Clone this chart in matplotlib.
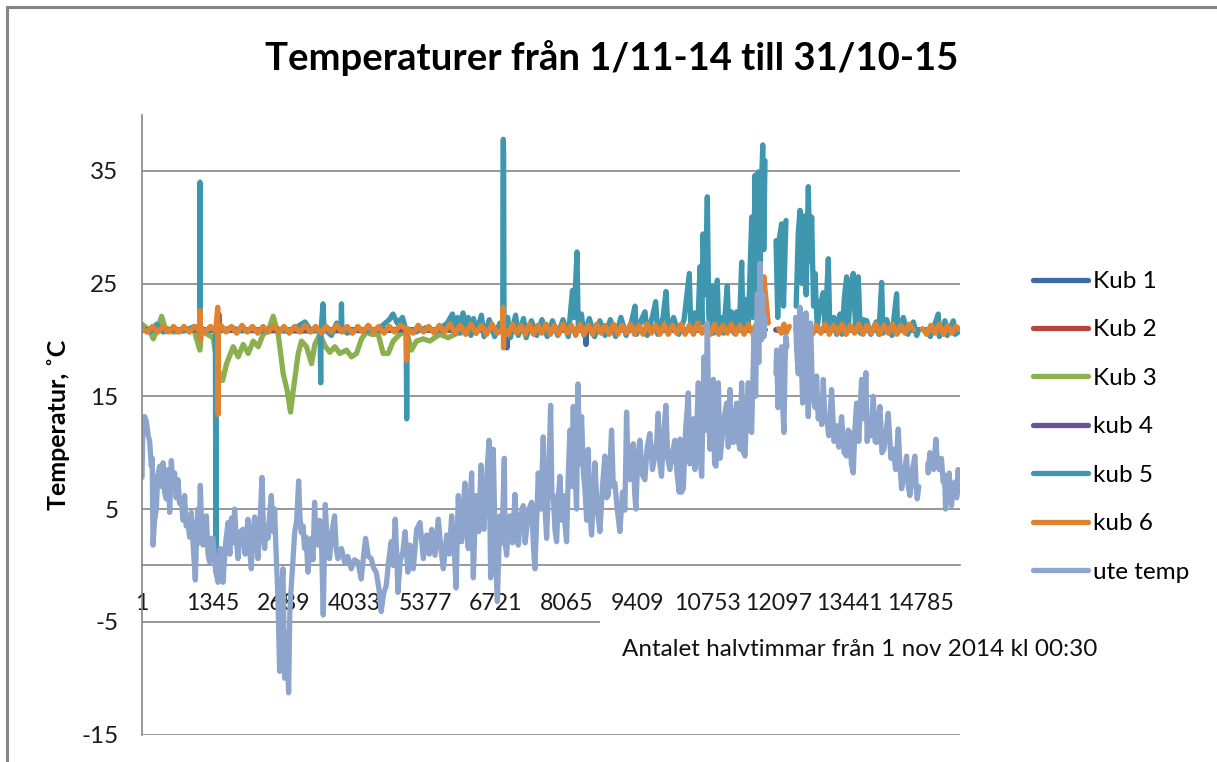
import numpy as np
import matplotlib.pyplot as plt
from matplotlib.patches import Rectangle

# Half-hour temperatures.
# Index = number of half hours since 1 nov 2014 00:30, None = missing data.

x_ticks = [1, 1345, 2689, 4033, 5377, 6721, 8065, 9409, 10753, 12097, 13441, 14785]
n_last = 15543

kub1_idx = [1, 3000, 6925, 6935, 6945, 8430, 8437, 8445, 11838, 11900, 12047, 12236,
            12300, 12430, 14760, 14830, 14910, n_last]
kub1_temp = [20.9, 20.8, 20.9, 19.3, 20.9, 20.9, 19.6, 20.9, 20.9, None, 20.9, 20.9,
             None, 20.9, 20.9, None, 20.9, 20.9]

kub2_idx = [1, 1440, 1460, 1480, 11838, 11900, 12047, 12236, 12300, 12430, 14760,
            14830, 14910, n_last]
kub2_temp = [20.9, 20.9, 22.3, 20.9, 20.9, None, 20.9, 20.9, None, 20.9, 20.9,
             None, 20.9, 20.9]

kub3_idx = [1, 153, 215, 279, 374, 437, 595, 785, 975, 1101, 1133, 1354, 1449, 1532,
            1608, 1734, 1829, 1924, 2019, 2114, 2209, 2304, 2399, 2494, 2589, 2684,
            2760, 2823, 2874, 2969, 3032, 3127, 3222, 3285, 3380, 3475, 3570, 3665,
            3760, 3887, 3982, 4077, 4172, 4267, 4362, 4489, 4584, 4678, 4773, 4900,
            5026, 5121, 5216, 5343, 5470, 5660, 5818, 6039]
kub3_temp = [21.4, 20.8, 20.1, 20.8, 22.1, 21.1, 20.7, 20.8, 21.1, 19.1, 20.8, 20.2,
             17.3, 16.4, 17.9, 19.4, 18.5, 19.6, 18.8, 19.9, 19.4, 20.5, 20.8, 22.1,
             20.5, 17.0, 15.5, 13.6, 15.5, 18.8, 19.9, 19.4, 17.9, 19.6, 20.5, 19.5,
             18.9, 19.4, 18.8, 19.1, 18.5, 18.8, 20.1, 20.7, 20.5, 20.5, 18.8, 18.8,
             19.9, 20.5, 20.8, 19.1, 19.9, 20.1, 19.9, 20.5, 20.2, 20.7]

kub4_idx = [1, 1095, 1103, 1110, 11838, 11900, 12047, 12236, 12300, 12430, 14760,
            14830, 14910, n_last]
kub4_temp = [20.9, 20.9, 20.1, 20.9, 20.9, None, 20.9, 20.9, None, 20.9, 20.9,
             None, 20.9, 20.9]

kub5_idx = [1, 150, 279, 400, 600, 800, 1000, 1095, 1103, 1108, 1200, 1300, 1395,
            1405, 1412, 1500, 1700, 1900, 2100, 2300, 2500, 2700, 2900, 3095, 3200,
            3385, 3396, 3405, 3440, 3460, 3600, 3700, 3780, 3791, 3800, 3900, 4100,
            4300, 4500, 4700, 4770, 4850, 4950, 5020, 5030, 5040, 5200, 5400, 5600,
            5800, 5900, 5950, 6000, 6050, 6100, 6150, 6200, 6250, 6300, 6350, 6450,
            6500, 6600, 6700, 6800, 6855, 6860, 6866, 6872, 6880, 6950, 7000, 7100,
            7150, 7250, 7300, 7400, 7500, 7600, 7700, 7800, 7900, 8000, 8100, 8180,
            8210, 8266, 8290, 8350, 8400, 8500, 8600, 8700, 8800, 8900, 9000, 9100,
            9200, 9300, 9368, 9400, 9500, 9558, 9600, 9700, 9761, 9800, 9900, 9957,
            10000, 10100, 10200, 10300, 10400, 10430, 10500, 10560, 10603, 10640,
            10660, 10700, 10742, 10770, 10800, 10825, 10860, 10932, 10960, 11000,
            11050, 11100, 11122, 11150, 11200, 11250, 11300, 11350, 11395, 11420,
            11490, 11520, 11560, 11586, 11610, 11648, 11670, 11711, 11740, 11770,
            11795, 11815, 11838, 11900, 12047, 12080, 12110, 12154, 12190, 12236,
            12300, 12430, 12470, 12503, 12540, 12580, 12620, 12661, 12690, 12725,
            12760, 12788, 12830, 12880, 12946, 12980, 13041, 13070, 13150, 13200,
            13263, 13300, 13350, 13390, 13420, 13470, 13515, 13560, 13610, 13650,
            13700, 13770, 13850, 13950, 14000, 14054, 14080, 14150, 14250, 14339,
            14360, 14466, 14550, 14656, 14720, 14760, 14830, 14910, 14980, 15050,
            15131, 15150, 15258, 15300, 15416, 15450, n_last]
kub5_temp = [21.0, 20.7, 21.4, 20.7, 21.0, 20.8, 21.2, 21.0, 34.0, 21.2, 20.7, 21.0,
             21.0, 0.7, 21.0, 20.8, 21.1, 20.8, 21.0, 20.8, 21.1, 20.8, 21.0, 21.6,
             20.9, 20.8, 16.2, 21.0, 23.2, 21.0, 20.4, 21.5, 21.0, 23.2, 21.0, 20.6,
             21.0, 20.8, 21.0, 21.8, 22.3, 21.5, 22.0, 20.8, 13.0, 21.0, 20.7, 21.1,
             20.8, 21.5, 22.3, 21.0, 22.0, 20.6, 22.4, 20.8, 22.0, 20.4, 21.9, 20.6,
             22.2, 20.3, 21.8, 20.3, 21.5, 21.0, 36.6, 37.8, 36.6, 20.8, 22.0, 20.2,
             22.2, 20.4, 21.9, 20.2, 21.7, 20.4, 21.8, 20.3, 21.7, 20.4, 21.8, 20.3,
             24.4, 22.0, 27.8, 21.0, 22.3, 20.4, 21.9, 20.3, 21.7, 20.4, 21.8, 20.3,
             22.0, 20.4, 21.6, 23.0, 20.5, 21.9, 22.5, 20.4, 22.1, 23.4, 20.5, 22.0,
             24.3, 20.6, 22.0, 20.5, 21.8, 25.9, 20.8, 22.4, 21.0, 26.5, 21.5, 29.4,
             24.0, 32.7, 22.0, 21.0, 24.8, 20.6, 25.3, 20.7, 22.0, 20.6, 23.5, 24.8,
             21.0, 22.5, 20.6, 22.5, 21.0, 26.9, 21.0, 23.6, 21.2, 27.0, 30.9, 22.0,
             34.6, 24.0, 34.9, 25.0, 33.5, 37.3, 28.0, 35.9, None, 28.8, 22.0, 29.0,
             30.3, 23.0, 30.6, None, 23.0, 29.5, 31.5, 25.0, 31.0, 24.0, 33.6, 27.0,
             30.9, 23.0, 25.9, 21.0, 23.0, 24.2, 21.0, 27.2, 21.0, 22.0, 20.5, 22.3,
             20.5, 24.0, 25.6, 21.0, 24.8, 25.9, 21.0, 25.6, 20.6, 21.8, 21.7, 20.5,
             21.6, 20.5, 25.1, 20.6, 21.8, 20.4, 24.1, 20.6, 22.0, 20.5, 21.6, 20.4,
             20.9, None, 20.9, 20.3, 21.2, 22.3, 20.3, 21.7, 20.4, 21.7, 20.5, 20.8]

kub6_idx = [1, 100, 200, 300, 400, 500, 600, 700, 800, 900, 1000, 1098, 1103, 1106,
            1112, 1200, 1300, 1400, 1440, 1446, 1452, 1500, 1600, 1700, 1800, 1900,
            2000, 2100, 2200, 2300, 2400, 2500, 2600, 2700, 2800, 2900, 3000, 3100,
            3200, 3300, 3400, 3500, 3600, 3700, 3800, 3900, 4000, 4100, 4200, 4300,
            4400, 4500, 4600, 4700, 4800, 4900, 5020, 5030, 5040, 5150, 5250, 5350,
            5450, 5550, 5650, 5750, 5850, 5950, 6050, 6150, 6250, 6350, 6450, 6550,
            6650, 6750, 6855, 6862, 6870, 6880, 6960, 7040, 7120, 7200, 7280, 7360,
            7440, 7520, 7600, 7680, 7760, 7840, 7920, 8000, 8080, 8160, 8240, 8320,
            8400, 8480, 8560, 8640, 8720, 8800, 8880, 8960, 9040, 9120, 9200, 9280,
            9360, 9440, 9520, 9600, 9680, 9760, 9840, 9920, 10000, 10080, 10160,
            10240, 10320, 10400, 10480, 10560, 10640, 10720, 10800, 10880, 10960,
            11040, 11120, 11200, 11280, 11360, 11440, 11520, 11600, 11660, 11700,
            11750, 11795, 11820, 11838, 11900, 12047, 12100, 12150, 12200, 12236,
            12300, 12430, 12500, 12580, 12660, 12740, 12820, 12900, 12980, 13060,
            13140, 13220, 13300, 13380, 13460, 13540, 13620, 13700, 13780, 13860,
            13940, 14020, 14100, 14180, 14260, 14340, 14420, 14500, 14580, 14660,
            14760, 14830, 14910, 14990, 15070, 15150, 15230, 15310, 15390, 15470,
            n_last]
kub6_temp = [21.0, 20.7, 21.2, 20.7, 21.2, 20.7, 21.2, 20.7, 21.2, 20.7, 21.2, 20.8,
             22.6, 20.0, 21.0, 20.7, 21.2, 20.8, 22.9, 13.4, 21.0, 21.3, 20.7, 21.2,
             20.6, 21.3, 20.7, 21.2, 20.6, 21.2, 20.7, 21.3, 20.7, 21.2, 20.6, 21.2,
             20.7, 21.3, 20.7, 21.2, 20.6, 21.2, 20.7, 21.3, 20.7, 21.2, 20.6, 21.2,
             20.7, 21.3, 20.7, 21.2, 20.6, 21.2, 20.7, 21.3, 21.0, 18.2, 21.0, 20.6,
             21.3, 20.7, 21.2, 20.6, 21.3, 20.7, 21.4, 20.6, 21.3, 20.5, 21.4, 20.6,
             21.3, 20.5, 21.4, 20.6, 21.0, 22.9, 19.3, 21.0, 20.5, 21.4, 20.6, 21.3,
             20.5, 21.4, 20.5, 21.3, 20.6, 21.4, 20.5, 21.3, 20.5, 21.4, 20.6, 21.3,
             20.4, 21.4, 20.5, 21.3, 20.5, 21.4, 20.6, 21.3, 20.5, 21.4, 20.5, 21.3,
             20.6, 21.4, 20.5, 21.3, 20.5, 21.4, 20.6, 21.3, 20.5, 21.4, 20.5, 21.3,
             20.6, 21.4, 20.5, 21.3, 20.5, 21.5, 20.6, 21.3, 20.5, 21.4, 20.5, 21.3,
             20.6, 21.4, 20.5, 21.3, 20.5, 21.4, 20.6, 21.3, 20.6, 22.1, 21.0, 25.6,
             24.5, 21.5, None, 21.0, 20.6, 21.4, 20.6, 21.2, None, 21.9, 20.6, 21.4,
             20.5, 21.3, 20.6, 21.4, 20.5, 21.3, 20.6, 21.4, 20.5, 21.3, 20.6, 21.4,
             20.5, 21.3, 20.6, 21.4, 20.5, 21.3, 20.6, 21.4, 20.5, 21.3, 20.6, 21.4,
             20.9, None, 21.0, 20.5, 21.3, 20.6, 21.4, 20.5, 21.3, 20.6, 21.2, 20.9]

ute_idx = [1, 20, 52, 83, 120, 147, 178, 195, 210, 240, 273, 300, 337, 370, 400, 430,
           463, 500, 527, 558, 590, 621, 650, 685, 715, 748, 780, 811, 840, 875, 905,
           938, 970, 1014, 1040, 1065, 1085, 1109, 1135, 1160, 1190, 1223, 1255, 1286,
           1320, 1350, 1400, 1445, 1490, 1540, 1590, 1635, 1670, 1700, 1730, 1761,
           1790, 1825, 1870, 1920, 1960, 2014, 2045, 2078, 2110, 2141, 2175, 2205,
           2245, 2281, 2310, 2331, 2365, 2394, 2425, 2458, 2490, 2521, 2550, 2584,
           2600, 2616, 2645, 2679, 2711, 2750, 2787, 2810, 2838, 2870, 2901, 2940,
           2977, 3000, 3027, 3060, 3090, 3120, 3154, 3185, 3217, 3250, 3280, 3310,
           3344, 3375, 3407, 3445, 3483, 3520, 3565, 3610, 3660, 3690, 3723, 3790,
           3850, 3910, 3977, 4040, 4103, 4166, 4210, 4249, 4300, 4356, 4400, 4451,
           4500, 4546, 4590, 4641, 4690, 4736, 4775, 4812, 4840, 4863, 4910, 4957,
           5000, 5052, 5093, 5156, 5220, 5283, 5346, 5410, 5460, 5505, 5568, 5631,
           5680, 5726, 5790, 5840, 5884, 5930, 5967, 6011, 6040, 6074, 6105, 6137,
           6170, 6201, 6240, 6264, 6296, 6330, 6359, 6400, 6442, 6470, 6498, 6540,
           6594, 6625, 6650, 6676, 6710, 6752, 6780, 6802, 6840, 6885, 6900, 6929,
           6960, 6992, 7040, 7087, 7120, 7150, 7200, 7245, 7280, 7309, 7350, 7404,
           7440, 7467, 7500, 7530, 7580, 7625, 7660, 7689, 7730, 7765, 7790, 7815,
           7850, 7879, 7910, 7942, 7975, 8005, 8040, 8068, 8100, 8132, 8160, 8195,
           8230, 8258, 8284, 8320, 8353, 8390, 8416, 8450, 8480, 8510, 8543, 8575,
           8606, 8650, 8701, 8750, 8796, 8830, 8860, 8890, 8923, 8955, 8986, 9030,
           9081, 9130, 9176, 9208, 9240, 9271, 9300, 9334, 9360, 9385, 9420, 9461,
           9510, 9556, 9600, 9651, 9700, 9746, 9780, 9809, 9840, 9872, 9910, 9955,
           9990, 10030, 10080, 10125, 10170, 10208, 10223, 10250, 10286, 10330,
           10381, 10410, 10445, 10475, 10508, 10540, 10571, 10600, 10635, 10660,
           10679, 10710, 10742, 10770, 10793, 10825, 10856, 10880, 10907, 10930,
           10951, 10985, 11014, 11060, 11109, 11140, 11173, 11200, 11236, 11270,
           11299, 11330, 11363, 11394, 11430, 11458, 11490, 11521, 11550, 11584,
           11610, 11629, 11660, 11692, 11720, 11743, 11770, 11793, 11818, 11838,
           11900, 12047, 12059, 12085, 12110, 12130, 12154, 12175, 12198, 12220,
           12236, 12255, 12300, 12420, 12439, 12470, 12502, 12530, 12553, 12590,
           12616, 12640, 12660, 12690, 12705, 12730, 12755, 12790, 12818, 12850,
           12882, 12915, 12945, 12975, 13008, 13050, 13103, 13150, 13198, 13240,
           13293, 13340, 13388, 13420, 13451, 13480, 13515, 13545, 13578, 13620,
           13673, 13710, 13755, 13780, 13800, 13850, 13895, 13930, 13958, 13990,
           14022, 14060, 14098, 14140, 14180, 14230, 14275, 14320, 14370, 14400,
           14433, 14480, 14528, 14560, 14591, 14640, 14686, 14710, 14730, 14760,
           14830, 14930, 14939, 14970, 15002, 15040, 15085, 15115, 15148, 15190,
           15224, 15250, 15268, 15300, 15338, 15360, 15382, 15410, 15446, 15480,
           15509, 15530, n_last]
ute_temp = [7.8, 13.0, 13.2, 12.8, 11.5, 11.0, 8.8, 9.5, 1.8, 4.0, 5.0, 8.0, 8.8, 7.0,
            9.1, 6.5, 5.9, 8.5, 4.7, 9.3, 7.0, 8.2, 6.0, 7.6, 5.5, 5.9, 4.0, 6.2, 3.5,
            3.8, 2.5, 4.7, 2.0, -1.3, 3.0, 5.0, 2.0, 7.1, 3.5, 1.8, 3.5, 4.4, 1.0, 0.3,
            2.4, 2.4, -0.5, -1.5, 1.5, -1.5, 2.0, 3.8, 1.0, 4.2, 2.0, 5.0, 2.5, 0.6,
            3.0, 3.2, 1.0, 4.1, 1.5, -0.3, 3.0, 4.3, 2.0, 0.6, 4.0, 7.8, 3.0, 1.5, 3.5,
            2.4, 4.5, 6.2, 3.0, 5.0, 1.0, -2.9, -6.0, -9.4, -3.0, -0.3, -10.0, -6.0,
            -11.3, -4.0, -1.8, 0.5, 2.9, 4.0, 7.5, 4.5, 2.9, 3.5, 1.5, 2.5, -0.6, 1.5,
            2.4, 0.5, 5.6, 2.0, 1.8, 4.0, 2.9, -4.4, 5.4, 2.0, 0.6, 3.0, 4.4, 1.5, 0.6,
            1.5, 0.3, 0.8, -0.3, 0.5, 0.3, -1.2, 0.8, 2.4, 0.8, 0.6, -0.2, -0.6, -2.0,
            -4.1, -2.5, -1.8, 0.5, 2.1, 0.0, 4.1, 1.0, -2.4, 0.5, 1.2, 3.0, -0.6, 1.8,
            -0.3, 3.2, 3.8, 0.6, 2.7, 1.0, 3.2, 0.9, 4.1, 1.5, -0.3, 2.7, 1.0, 4.4, 2.0,
            -2.0, 6.2, 2.5, 2.1, 5.0, 7.3, 3.0, 1.5, 6.0, 8.2, -1.1, 4.0, 6.2, 3.0, 8.9,
            4.0, 3.2, 7.0, 11.1, -1.1, 5.0, 10.3, 2.0, -3.2, 1.0, 4.4, 2.0, 9.5, 2.0,
            0.9, 3.5, 4.4, 2.0, 6.3, 3.0, 1.8, 4.5, 5.3, 2.0, 3.2, 5.0, 5.6, 1.5, -0.3,
            4.0, 8.2, 5.0, 11.4, 5.0, 2.4, 8.0, 14.2, 6.0, 6.2, 3.0, 2.1, 6.0, 7.9, 4.0,
            6.2, 3.5, 2.1, 8.0, 12.0, 7.0, 14.1, 8.0, 5.0, 16.1, 9.0, 13.2, 8.0, 6.8,
            4.0, 10.3, 5.0, 2.7, 6.0, 9.1, 5.0, 3.0, 7.0, 9.7, 6.0, 6.2, 8.5, 12.0, 7.0,
            7.3, 5.0, 3.0, 6.5, 4.9, 13.6, 8.0, 7.6, 9.0, 10.8, 6.5, 5.0, 9.5, 11.1,
            8.0, 7.6, 10.5, 11.7, 8.5, 9.7, 11.0, 13.5, 9.0, 7.9, 11.5, 14.2, 9.5, 8.5,
            10.0, 11.1, 8.0, 6.5, 11.2, 6.5, 6.8, 12.0, 15.3, 9.0, 10.3, 13.0, 8.5,
            12.0, 16.2, 10.0, 7.9, 14.0, 18.5, 12.0, 21.5, 13.0, 10.3, 14.0, 16.5, 9.0,
            8.8, 13.0, 16.2, 9.5, 10.9, 13.0, 14.4, 10.5, 15.6, 11.0, 10.9, 13.0, 14.4,
            11.0, 10.3, 16.2, 10.0, 9.7, 14.0, 16.2, 12.0, 11.8, 17.0, 20.6, 15.0, 24.1,
            18.0, 26.8, 20.0, 24.1, 20.3, 22.0, None, 17.0, 19.1, 14.0, 15.6, 17.0,
            19.4, 14.0, 11.8, 18.0, 20.3, 19.4, None, 22.0, 19.1, 17.0, 22.9, 18.0,
            14.4, 19.0, 22.4, 16.0, 13.2, 18.0, 21.5, 17.0, 15.0, 14.0, 16.8, 13.0,
            14.4, 12.5, 16.5, 13.0, 13.2, 11.5, 15.6, 11.0, 12.4, 10.5, 13.2, 10.0, 9.7,
            12.0, 11.8, 9.0, 8.2, 12.0, 14.4, 11.0, 16.5, 13.0, 17.1, 11.0, 12.9, 11.5,
            15.0, 11.0, 10.9, 13.0, 14.1, 10.0, 10.3, 12.0, 13.5, 9.5, 10.3, 8.5, 12.1,
            9.0, 6.8, 8.0, 9.7, 7.0, 6.2, 8.5, 9.7, 7.0, 5.9, 7.0, None, 9.0, 8.2, 10.0,
            9.7, 8.5, 11.2, 9.0, 8.5, 9.5, 7.4, 8.0, 5.0, 7.0, 8.2, 6.0, 5.3, 7.0, 7.4,
            6.0, 8.5, 6.5, 6.8]

series = [
    ('Kub 1', kub1_idx, kub1_temp, '#3C6BA5'),
    ('Kub 2', kub2_idx, kub2_temp, '#B9433F'),
    ('Kub 3', kub3_idx, kub3_temp, '#8BB04F'),
    ('kub 4', kub4_idx, kub4_temp, '#6B5396'),
    ('kub 5', kub5_idx, kub5_temp, '#3E97AF'),
    ('kub 6', kub6_idx, kub6_temp, '#E0822F'),
    ('ute temp', ute_idx, ute_temp, '#8DA5CC'),
]

plt.rcParams['font.family'] = ['Lato', 'DejaVu Sans']
plt.rcParams['axes.unicode_minus'] = False

W, H = 1217, 762
fig = plt.figure(figsize=(W / 100, H / 100), dpi=100)
ax = fig.add_axes([142 / W, 1 - 734.5 / H, 818 / W, 620 / H])

for name, idx, temp, col in series:
    y = np.array([np.nan if t is None else t for t in temp], dtype=float)
    ax.plot(idx, y, color=col, lw=3.8, label=name,
            solid_capstyle='round', solid_joinstyle='round')

ax.set_xlim(1, n_last)
ax.set_ylim(-15, 40)
ax.set_yticks([-15, -5, 5, 15, 25, 35])
ax.set_xticks(x_ticks)
ax.set_xticklabels([str(t) for t in x_ticks])
ax.grid(axis='y', color='#868686', lw=1.2)
ax.set_axisbelow(True)

for s in ['top', 'right']:
    ax.spines[s].set_visible(False)
ax.spines['left'].set_color('#868686')
ax.spines['left'].set_linewidth(1.2)
ax.spines['bottom'].set_position(('data', 0))
ax.spines['bottom'].set_color('#868686')
ax.spines['bottom'].set_linewidth(1.2)
ax.spines['bottom'].set_zorder(1)
ax.tick_params(axis='x', length=0, pad=20, labelsize=16.6, labelcolor='#1a1a1a')
ax.tick_params(axis='y', length=0, pad=17, labelsize=17.5, labelcolor='#1a1a1a')

fig.text(612 / W, 1 - 58 / H, 'Temperaturer från 1/11-14 till 31/10-15',
         ha='center', va='center', fontsize=27.5, fontweight='bold')
fig.text(59 / W, 1 - 425 / H, 'Temperatur, ˚C', rotation=90,
         ha='center', va='center', fontsize=18, fontweight='bold')
fig.text(622 / W, 1 - 650 / H, 'Antalet halvtimmar från 1 nov 2014 kl 00:30',
         ha='left', va='center', fontsize=17.5, color='#111111',
         bbox=dict(boxstyle='square,pad=0.9', fc='white', ec='none'))

fig.legend(loc='upper left', bbox_to_anchor=(1033 / W, 1 - 271 / H),
           frameon=False, fontsize=17.5, handlelength=2.25, handletextpad=0.2,
           labelspacing=1.13, borderpad=0, borderaxespad=0)

# chart area border (runs off the right and bottom edges like the screenshot)
fig.patches.append(Rectangle((7 / W, -0.05), 1.1, 1 - 7 / H + 0.05,
                             transform=fig.transFigure, fill=False,
                             ec='#868686', lw=2.2))

fig.savefig('out.png', dpi=100)
